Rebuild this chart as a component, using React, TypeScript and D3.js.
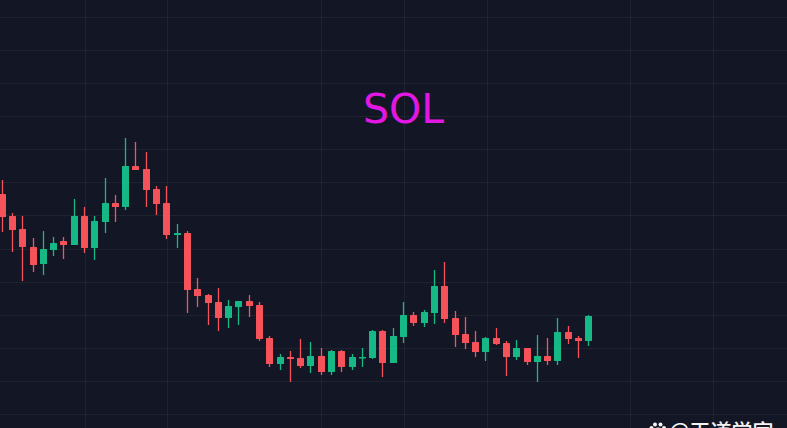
import React from "react";
import * as d3 from "d3";

const W = 787;
const H = 428;

// price units
const highs = [124,107.5,106,95,98.5,95.5,95.5,114.5,110.5,106,125,116.5,145,143,138,121,121,102,98.5,75,67,70,64,63.5,66.5,63,46,37,38.5,44.5,43,40,39,39,37,40,49,49,50,63,58,59,79,83,58.5,55.5,48.5,45.5,50,43.5,44,40,46.5,45,55,51,46,56.5];
const lows = [98,88,73.5,78,76.5,86,84.5,91.5,87.5,84,97.5,103,109,129,110.5,106.5,94.5,90,57.5,60.5,51.5,48.5,50,51.5,55.5,43.5,30.5,29,23,30,27.5,26.5,26.5,28,29,30.5,34.5,25.5,32.5,42.5,51,50.5,52,52.5,40.5,39.5,35.5,33.5,41.5,26,34,31.5,23,31.5,31.5,42,35,41];
const bodyTops = [117,106,99.5,90.5,89.5,92.5,93.5,106,106,103.5,112.5,112.5,131,131,129.5,119.5,112.5,97.5,97.5,69.5,66.5,63,61,63.5,63.5,61.5,45,35.5,35.5,35,36,36,38.5,38.5,35.5,35.5,48.5,48.5,46,56.5,56.5,58,71,71,55,47,43,45,45,42.5,40,40,36,36,48,48,45,56];
const bodyBottoms = [105.5,99,90.5,81.5,82,89,91.5,91.5,90,90,103,110.5,110.5,129,119,112,96.5,96.5,69,66,62.5,55,55,60.5,61,44.5,32,32,34.5,31,31,28,28,30.5,30.5,35,35,32.5,32.5,45.5,52.5,52.5,57.5,54.5,46.5,42.5,38,38,42,35.5,35.5,33,33,33.5,33.5,44.5,43.5,43.5];
const rising = [0,0,0,0,1,1,0,1,0,1,1,0,1,0,0,0,0,1,0,0,0,0,1,1,0,0,0,1,0,0,1,0,1,0,1,1,1,0,1,1,0,1,1,0,0,0,0,1,0,0,1,0,1,0,1,0,0,1];

const hLines = [17,50,83,116,149,182,215,249,282,315,348,381,414];
const vLines = [85,167,321,404,487,630,713];
const title = "SOL";
const watermark = "@天道学家";

const x = d3.scaleLinear().domain([0, highs.length - 1]).range([1.7, 588.3]);
const y = d3.scaleLinear().domain([0, 214]).range([H, 0]);
const UP = "#16b985";
const DOWN = "#f6525a";
const BODY = 7;

export default function App() {
  return (
    <svg
      width={W}
      height={H}
      viewBox={`0 0 ${W} ${H}`}
      style={{ position: "fixed", left: 0, top: 0, display: "block", background: "#131725" }}
    >
      <g stroke="#ffffff" strokeOpacity={0.055} strokeWidth={1} shapeRendering="crispEdges">
        {hLines.map((v) => <line key={v} x1={0} x2={W} y1={v + 0.5} y2={v + 0.5} />)}
        {vLines.map((v) => <line key={v} y1={0} y2={H} x1={v + 0.5} x2={v + 0.5} />)}
      </g>
      <g>
        {highs.map((h, i) => {
          const c = rising[i] ? UP : DOWN;
          const cx = Math.round(x(i));
          const top = y(bodyTops[i]);
          const bot = y(bodyBottoms[i]);
          return (
            <g key={i}>
              <line x1={cx + 0.5} x2={cx + 0.5} y1={y(h)} y2={y(lows[i])} stroke={c} strokeWidth={1.3} />
              <rect x={cx - 3} y={top} width={BODY} height={Math.max(bot - top, 1.5)} fill={c} rx={0.5} />
            </g>
          );
        })}
      </g>
      <text x={363} y={123} fontFamily="DejaVu Sans" fontSize={41} fill="#e317e3">{title}</text>
      <g fill="#f4f4f4">
        <circle cx={655} cy={424.5} r={2} />
        <circle cx={660.5} cy={424.5} r={2} />
        <circle cx={651.5} cy={428} r={2} />
        <circle cx={664} cy={428} r={2} />
        <ellipse cx={658} cy={431} rx={4} ry={3.5} />
      </g>
      <text x={669} y={438.5} fontFamily="'Noto Sans CJK SC'" fontSize={21} fontWeight={500} fill="#f4f4f4">{watermark}</text>
    </svg>
  );
}
